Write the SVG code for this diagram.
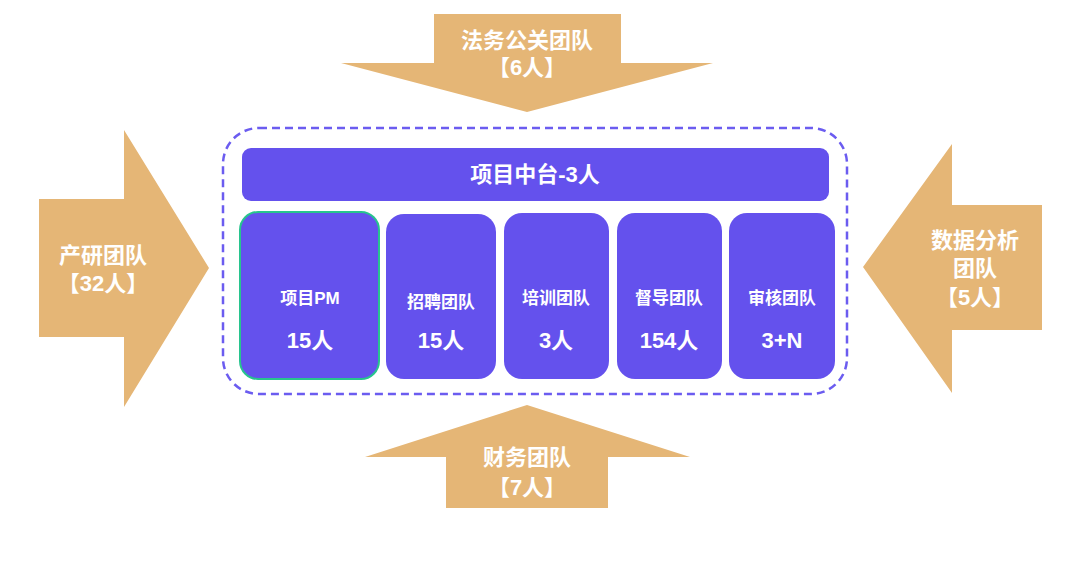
<svg xmlns="http://www.w3.org/2000/svg" width="1080" height="565" viewBox="0 0 1080 565">
<style>
.arrow{fill:#E5B676;}
.alabel{font-family:"Liberation Sans","Noto Sans CJK SC",sans-serif;font-weight:bold;font-size:22px;fill:#FFFFFF;text-anchor:middle;}
.card{fill:#6451ED;}
.title{font-family:"Liberation Sans","Noto Sans CJK SC",sans-serif;font-weight:bold;font-size:17px;fill:#FFFFFF;text-anchor:middle;}
.num{font-family:"Liberation Sans","Noto Sans CJK SC",sans-serif;font-weight:bold;font-size:22px;fill:#FFFFFF;text-anchor:middle;}
</style>
<rect width="1080" height="565" fill="#FFFFFF"/>
<g id="container">
<rect x="223" y="128" width="624" height="266" rx="36" ry="36" fill="none" stroke="#6B5CF0" stroke-width="2.5" stroke-dasharray="8,5"/>
</g>
<g id="header">
<rect class="card" x="242" y="148" width="587" height="53" rx="9" ry="9"/>
<text class="num" x="535" y="182">项目中台-3人</text>
</g>
<g id="card-pm">
<rect class="card" x="240" y="212" width="139" height="167" rx="18" ry="18" stroke="#27C48E" stroke-width="2"/>
<text class="title" x="310" y="304">项目PM</text>
<text class="num" x="310" y="348">15人</text>
</g>
<g id="card-recruit">
<rect class="card" x="386" y="214" width="110" height="165" rx="18" ry="18"/>
<text class="title" x="441" y="308">招聘团队</text>
<text class="num" x="441" y="348">15人</text>
</g>
<g id="card-train">
<rect class="card" x="504" y="213" width="105" height="166" rx="18" ry="18"/>
<text class="title" x="556" y="304">培训团队</text>
<text class="num" x="556" y="348">3人</text>
</g>
<g id="card-supervise">
<rect class="card" x="617" y="213" width="105" height="166" rx="18" ry="18"/>
<text class="title" x="669" y="304">督导团队</text>
<text class="num" x="669" y="348">154人</text>
</g>
<g id="card-audit">
<rect class="card" x="729" y="213" width="106" height="166" rx="18" ry="18"/>
<text class="title" x="782" y="304">审核团队</text>
<text class="num" x="782" y="348">3+N</text>
</g>
<g id="connectors">
<g id="arrow-top">
<polygon class="arrow" points="434,14 621,14 621,63 713,63 527,112 341,63 434,63"/>
<text class="alabel" x="527" y="48">法务公关团队</text>
<text class="alabel" x="527" y="75">【6人】</text>
</g>
<g id="arrow-left">
<polygon class="arrow" points="39,199 124,199 124,130 209,268 124,407 124,337 39,337"/>
<text class="alabel" x="103" y="263">产研团队</text>
<text class="alabel" x="103" y="291">【32人】</text>
</g>
<g id="arrow-right">
<polygon class="arrow" points="1042,205 952,205 952,144 863,267 952,393 952,330 1042,330"/>
<text class="alabel" x="975" y="248">数据分析</text>
<text class="alabel" x="975" y="276">团队</text>
<text class="alabel" x="975" y="305">【5人】</text>
</g>
<g id="arrow-bottom">
<polygon class="arrow" points="446,508 608,508 608,457 690,457 527,405 365,457 446,457"/>
<text class="alabel" x="527" y="465">财务团队</text>
<text class="alabel" x="527" y="495">【7人】</text>
</g>
</g>
</svg>
